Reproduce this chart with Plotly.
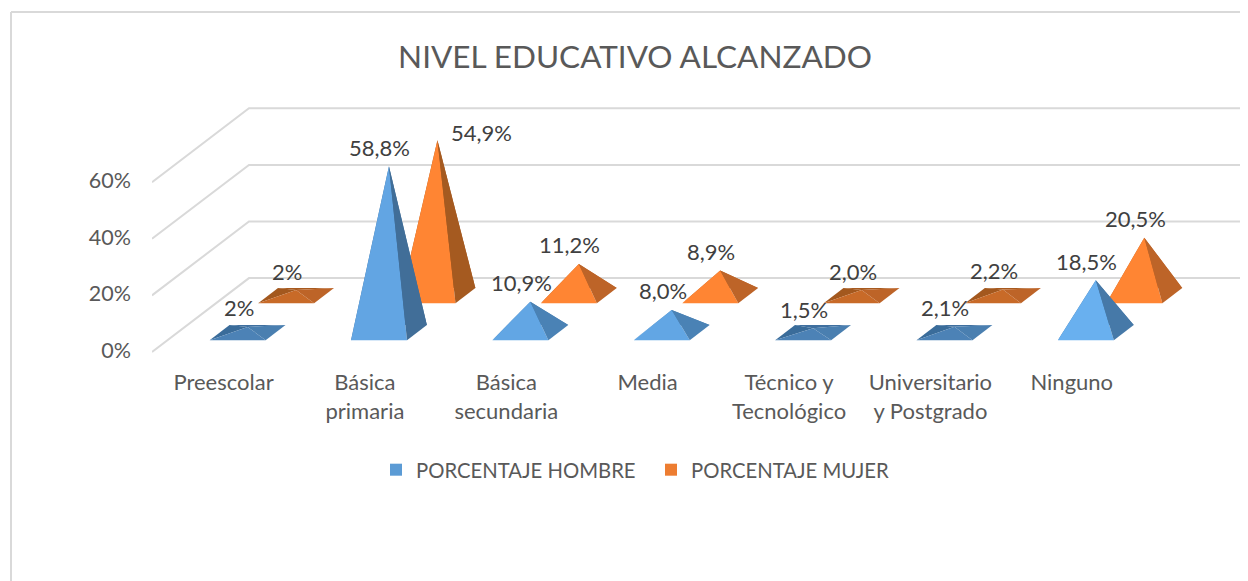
import plotly.graph_objects as go

categories = ["Preescolar", "Básica<br>primaria", "Básica<br>secundaria", "Media",
              "Técnico y<br>Tecnológico", "Universitario<br>y Postgrado", "Ninguno"]
hombre = [2.0, 58.8, 10.9, 8.0, 1.5, 2.1, 18.5]
mujer = [2.0, 54.9, 11.2, 8.9, 2.0, 2.2, 20.5]
hombre_labels = ["2%", "58,8%", "10,9%", "8,0%", "1,5%", "2,1%", "18,5%"]
mujer_labels = ["2%", "54,9%", "11,2%", "8,9%", "2,0%", "2,2%", "20,5%"]
grid_ticks = [0, 20, 40, 60]
grid_tick_labels = ["0%", "20%", "40%", "60%"]

FONT = "Lato"
GRID = "#d9d9d9"
TEXT = "#404040"
# the page body has an 8px margin
W, H = 1240, 573

# oblique projection: one unit of depth moves this far along each axis
DEPTH_X = 0.686   # categories
DEPTH_Y = 26.1    # percent
FLOOR_DROP = -0.55
HALF_W = 0.198
DEPTH_T = 0.205
PYRAMID_SHIFT = -0.01


def project(cat, val, depth):
    return cat + depth * DEPTH_X, val + depth * DEPTH_Y + FLOOR_DROP


def face_colors(val, base):
    # flat pyramids show every face, the tall ones only front and right
    if base == "blue":
        if val < 3:
            return dict(back="#3f6f9f", left="#3a6c9a", front="#4c82b6", right="#4a7fb0")
        if val > 40:
            return dict(back="#416e98", left="#416e98", front="#62a5e3", right="#416e98")
        if val > 15:
            return dict(back="#4679a8", left="#4679a8", front="#69b0ef", right="#4679a8")
        return dict(back="#4a82b5", left="#4a82b5", front="#62a6e4", right="#4a82b5")
    if val < 3:
        return dict(back="#a85a1f", left="#a3581e", front="#c86a28", right="#bd6428")
    if val > 40:
        return dict(back="#a55a20", left="#a55a20", front="#ff8533", right="#a55a20")
    return dict(back="#bd6428", left="#bd6428", front="#ff8533", right="#bd6428")


def pyramid_traces(cat, val, depth0, base, name):
    colors = face_colors(val, base)
    cat = cat + PYRAMID_SHIFT
    fl = project(cat - HALF_W, 0, depth0)
    fr = project(cat + HALF_W, 0, depth0)
    br = project(cat + HALF_W, 0, depth0 + DEPTH_T)
    bl = project(cat - HALF_W, 0, depth0 + DEPTH_T)
    apex = project(cat, val, depth0 + DEPTH_T / 2)
    faces = [("back", bl, br), ("left", fl, bl), ("front", fl, fr), ("right", fr, br)]
    traces = []
    for face, a, b in faces:
        traces.append(go.Scatter(x=[a[0], b[0], apex[0], a[0]], y=[a[1], b[1], apex[1], a[1]],
                                 mode="lines", fill="toself", fillcolor=colors[face],
                                 line=dict(width=0), hoverinfo="text",
                                 text=name, showlegend=False))
    return traces, apex


fig = go.Figure()

# side wall and back wall lines
for t in grid_ticks:
    x0, y0 = project(-0.506, t, 0)
    x1, y1 = project(-0.506, t, 1)
    fig.add_trace(go.Scatter(x=[x0, x1, 7.19], y=[y0, y1, y1], mode="lines",
                             line=dict(color=GRID, width=2), hoverinfo="skip", showlegend=False))

annotations = []
series = [(hombre, hombre_labels, 0.16, "blue", "PORCENTAJE HOMBRE"),
          (mujer, mujer_labels, 0.66, "orange", "PORCENTAJE MUJER")]

for values, labels, depth0, base, name in reversed(series):
    for i, v in enumerate(values):
        traces, apex = pyramid_traces(i, v, depth0, base, name)
        fig.add_traces(traces)
        xshift, yshift = -9, 19
        if v == 54.9:
            xshift, yshift = 44, 8
        annotations.append(dict(x=apex[0], y=apex[1], xref="x", yref="y", text=labels[i],
                                showarrow=False, xshift=xshift, yshift=yshift,
                                font=dict(family=FONT, size=22, color=TEXT)))

# legend entries
fig.add_trace(go.Scatter(x=[None], y=[None], mode="markers", name="PORCENTAJE HOMBRE",
                         marker=dict(symbol="square", size=15, color="#5b9bd5")))
fig.add_trace(go.Scatter(x=[None], y=[None], mode="markers", name="PORCENTAJE MUJER",
                         marker=dict(symbol="square", size=15, color="#ed7d31")))

fig.update_layout(
    width=W, height=H,
    margin=dict(l=144, r=8, t=87, b=216),
    paper_bgcolor="white", plot_bgcolor="white",
    title=dict(text="NIVEL EDUCATIVO ALCANZADO", x=627 / W, xanchor="center",
               y=1 - 49 / H, yanchor="middle",
               font=dict(family=FONT, size=31.5, color="#595959")),
    xaxis=dict(range=[-0.506, 7.19], tickmode="array", tickvals=list(range(7)), ticktext=categories,
               showgrid=False, zeroline=False, showline=False, ticks="", ticklabelstandoff=2,
               tickfont=dict(family=FONT, size=22, color="#595959"), tickangle=0),
    yaxis=dict(range=[-5.15, 90.25], tickmode="array", tickvals=grid_ticks, ticktext=grid_tick_labels,
               showgrid=False, zeroline=False, showline=False, ticks="", ticklabelstandoff=20,
               tickfont=dict(family=FONT, size=21.5, color="#595959")),
    legend=dict(orientation="h", x=643 / W, xanchor="center", y=1 - 462 / H, yanchor="middle",
                xref="container", yref="container", entrywidth=230, entrywidthmode="pixels",
                font=dict(family=FONT, size=20.3, color="#595959"), itemsizing="constant"),
    annotations=annotations,
    shapes=[dict(type="line", xref="paper", yref="paper", x0=-141 / 1088, x1=(W - 144) / 1088,
                 y0=1 + 83 / 270, y1=1 + 83 / 270, line=dict(color=GRID, width=2)),
            dict(type="line", xref="paper", yref="paper", x0=-141 / 1088, x1=-141 / 1088,
                 y0=1 + 83 / 270, y1=-216 / 270, line=dict(color=GRID, width=2))],
)

fig.write_html("out.html")
